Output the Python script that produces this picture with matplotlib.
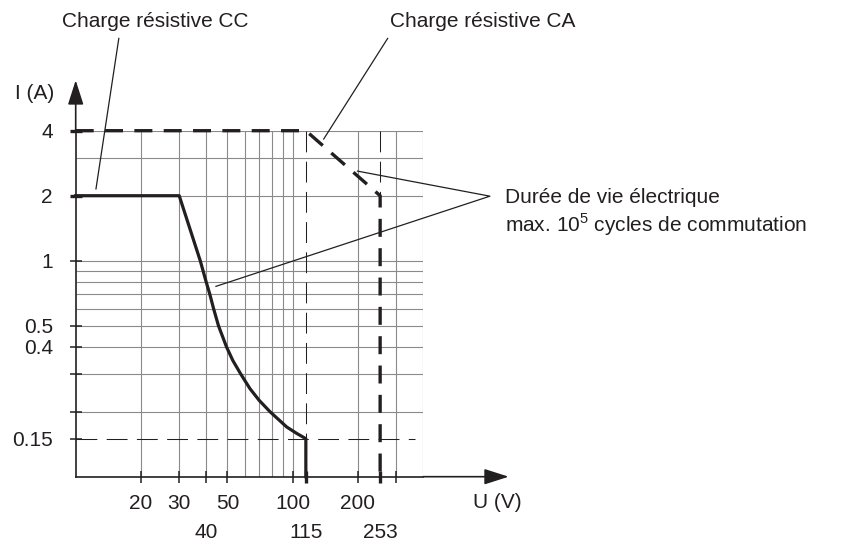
"""Relay load limit curve (courant vs tension, log-log)."""

import matplotlib
matplotlib.use("Agg")
import matplotlib.pyplot as plt

plt.rcParams["font.family"] = ["Liberation Sans", "DejaVu Sans"]
plt.rcParams["mathtext.fontset"] = "custom"
plt.rcParams["mathtext.rm"] = "Liberation Sans"

INK = "#231f20"
GRID = "#8a8a8a"

# --------------------------------------------------------------------------- #
# data
# --------------------------------------------------------------------------- #
U_GRID = [20, 30, 40, 50, 60, 70, 80, 90, 100, 200, 300, 400]
I_GRID = [0.2, 0.3, 0.4, 0.5, 0.6, 0.7, 0.8, 0.9, 1, 2, 3, 4]

# upper row of x labels, lower row (staggered) of x labels
U_TICKS = [20, 30, 50, 100, 200, 300]
U_LABELS = ["20", "30", "50", "100", "200", ""]
U_TICKS_LOW = [40, 115, 253]
U_LABELS_LOW = ["40", "115", "253"]
I_TICKS = [0.15, 0.2, 0.3, 0.4, 0.5, 1, 2, 4]
I_LABELS = ["0.15", "", "", "0.4", "0.5", "1", "2", "4"]

# DC resistive load (solid)
DC_U = [10, 30, 37.5, 39.9, 41.5, 43.2, 45.5, 49.5, 53, 57.5, 63.5, 70,
        78.6, 93.8, 104, 115, 115]
DC_I = [2, 2, 1.0, 0.8, 0.7, 0.6, 0.5, 0.4, 0.345, 0.3, 0.256, 0.226,
        0.2, 0.17, 0.159, 0.15, 0.1]

# AC resistive load (dashed)
AC_U = [10, 115, 253, 253]
AC_I = [4, 4, 2, 0.1]

U_MIN, U_MAX = 10, 400
I_MIN, I_MAX = 0.1, 4

# --------------------------------------------------------------------------- #
# figure
# --------------------------------------------------------------------------- #
fig = plt.figure(figsize=(8.5, 5.44), dpi=100)
ax = fig.add_axes([75.7 / 850, 67.3 / 544, 347.6 / 850, 346 / 544])
ax.set_xscale("log")
ax.set_yscale("log")
ax.set_xlim(U_MIN, U_MAX)
ax.set_ylim(I_MIN, I_MAX)

# grid
ax.vlines(U_GRID, I_MIN, I_MAX, color=GRID, lw=0.8, zorder=1)
ax.hlines(I_GRID, U_MIN, U_MAX, color=GRID, lw=0.8, zorder=1)

# thin dashed helper lines
thin = dict(color=INK, lw=0.75, dashes=(20, 9), zorder=2)
ax.plot([115, 115], [AC_I[0], I_MIN], **thin)
ax.plot([253, 253], [AC_I[0], AC_I[2]], **thin)
ax.plot([U_MIN, 366], [0.15, 0.15], **thin)

# curves
ax.plot(DC_U, DC_I, color=INK, lw=2.3, solid_joinstyle="round", zorder=4,
        clip_on=False)
ax.plot(AC_U, AC_I, color=INK, lw=2.4, dashes=(5.4, 3.4),
        dash_joinstyle="round", zorder=4, clip_on=False)

# axes / ticks
for s in ("top", "right"):
    ax.spines[s].set_visible(False)
for s in ("left", "bottom"):
    ax.spines[s].set_color(INK)
    ax.spines[s].set_linewidth(1.2)
    ax.spines[s].set_zorder(5)

ax.minorticks_off()
ax.set_xticks(U_TICKS)
ax.set_xticklabels(U_LABELS, fontsize=15, color=INK)
ax.set_xticks(U_TICKS_LOW, minor=True)
ax.set_xticklabels(U_LABELS_LOW, minor=True, fontsize=15, color=INK)
ax.set_yticks(I_TICKS)
ax.set_yticklabels(I_LABELS, fontsize=15, color=INK)
ax.tick_params(which="both", direction="inout", length=9, width=1.1,
               color=INK)
ax.tick_params(axis="y", pad=12)
ax.tick_params(axis="x", which="major", pad=8)
ax.tick_params(axis="x", which="minor", pad=29)
for t, v in zip(ax.xaxis.get_minor_ticks(), U_TICKS_LOW):
    if v in (115, 253):
        t.tick1line.set_markeredgewidth(2.4)
for t, v in zip(ax.yaxis.get_major_ticks(), I_TICKS):
    if v in (2, 4):
        t.tick1line.set_markeredgewidth(2.4)

arrow = dict(arrowstyle="-|>,head_length=1.0,head_width=0.32",
             mutation_scale=15, color=INK, lw=1.2, shrinkA=0, shrinkB=0)
ax.annotate("", xy=(990, I_MIN), xytext=(U_MAX, I_MIN), arrowprops=arrow,
            annotation_clip=False)
ax.annotate("", xy=(U_MIN, 6.85), xytext=(U_MIN, I_MAX), arrowprops=arrow,
            annotation_clip=False)

ax.text(8.0, 5.97, "I (A)", fontsize=15, ha="right", va="center", color=INK)
ax.text(873, 0.0759, "U (V)", fontsize=15, ha="center", va="center", color=INK)

# --------------------------------------------------------------------------- #
# annotations
# --------------------------------------------------------------------------- #
lead = dict(color=INK, lw=0.9, clip_on=False, zorder=6)
ax.plot([15.8, 12.4], [10.7, 2.15], **lead)
ax.plot([274, 139], [10.7, 3.66], **lead)
ax.plot([199, 811, 44.3], [2.6, 1.99, 0.761], **lead)

ax.text(8.65, 12.8, "Charge résistive CC", fontsize=15, ha="left",
        va="center", color=INK)
ax.text(281, 12.8, "Charge résistive CA", fontsize=15, ha="left",
        va="center", color=INK)
ax.text(951, 1.97, "Durée de vie électrique", fontsize=15, ha="left",
        va="center", color=INK)
ax.text(951, 1.465, r"max. 10$^{\mathrm{5}}$ cycles de commutation",
        fontsize=15, ha="left", va="center", color=INK)

fig.savefig("out.png", dpi=100)
plt.close(fig)
